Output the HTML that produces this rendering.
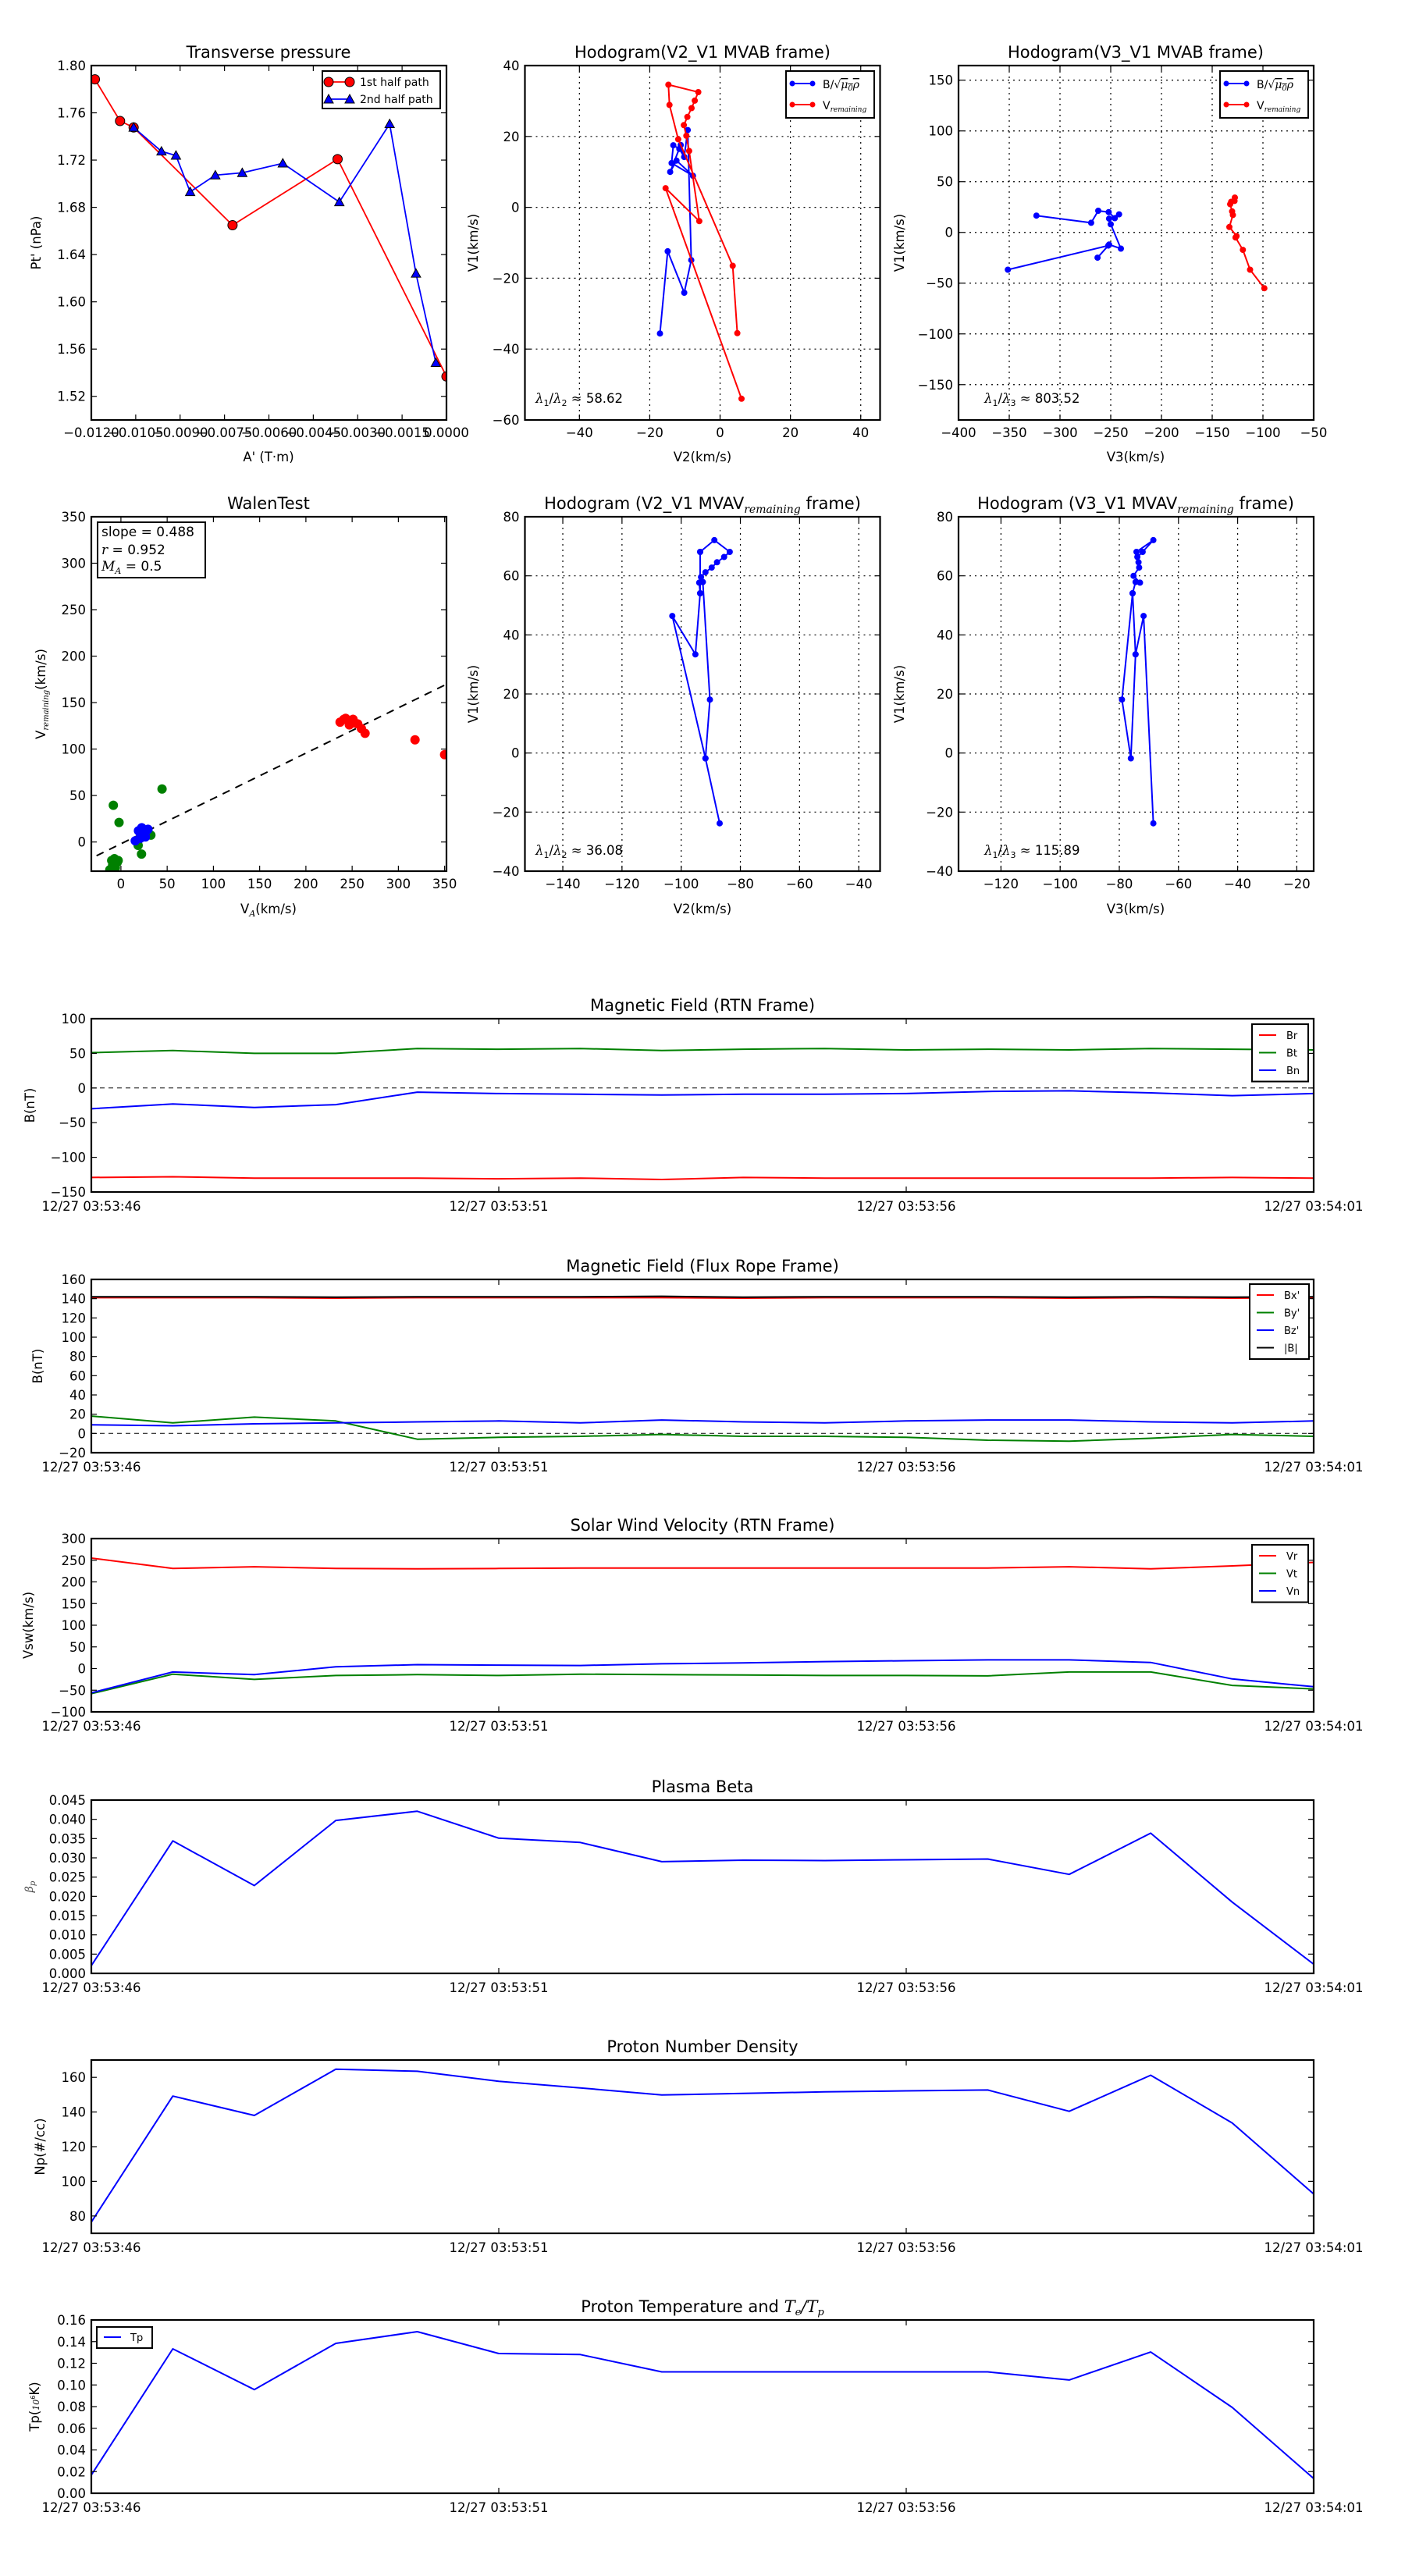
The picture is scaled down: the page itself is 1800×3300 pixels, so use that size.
<!DOCTYPE html>
<html><head><meta charset="utf-8">
<style>html,body{margin:0;padding:0;background:#fff}svg{display:block}</style>
</head><body>
<svg id="s" xmlns="http://www.w3.org/2000/svg" width="1800" height="3300" viewBox="0 0 1800 3300" font-family="DejaVu Sans, Liberation Sans, sans-serif"></svg>
<script>
const out=[];let cid=0;
function esc(s){return s;}
function T(x,y,s,o){o=o||{};const a=o.anchor||'middle',fs=o.fs||16.5;
 const rot=o.rot?` transform="rotate(${o.rot} ${x} ${y})"`:'';
 out.push(`<text x="${x}" y="${y}" font-size="${fs}" text-anchor="${a}"${rot} fill="#000">${s}</text>`);}
function axes(o){
 const fx=v=>o.x0+(v-o.xmin)/(o.xmax-o.xmin)*(o.x1-o.x0);
 const fy=v=>o.y1-(v-o.ymin)/(o.ymax-o.ymin)*(o.y1-o.y0);
 o.fx=fx;o.fy=fy;cid++;o.cid='c'+cid;
 out.push(`<clipPath id="${o.cid}"><rect x="${o.x0}" y="${o.y0}" width="${o.x1-o.x0}" height="${o.y1-o.y0}"/></clipPath>`);
 return o;}
function grid(o){
 (o.xt||[]).forEach(v=>{const x=o.fx(v);out.push(`<line x1="${x}" y1="${o.y0}" x2="${x}" y2="${o.y1}" stroke="#000" stroke-width="1.2" stroke-dasharray="2,5"/>`);});
 (o.yt||[]).forEach(v=>{const y=o.fy(v);out.push(`<line x1="${o.x0}" y1="${y}" x2="${o.x1}" y2="${y}" stroke="#000" stroke-width="1.2" stroke-dasharray="2,5"/>`);});}
function frame(o){
 const tl=7;
 (o.xt||[]).forEach((v,i)=>{const x=o.fx(v);
  out.push(`<line x1="${x}" y1="${o.y1}" x2="${x}" y2="${o.y1-tl}" stroke="#000" stroke-width="1.2"/><line x1="${x}" y1="${o.y0}" x2="${x}" y2="${o.y0+tl}" stroke="#000" stroke-width="1.2"/>`);
  T(x,o.y1+(o.xlo||22),o.xl?o.xl[i]:fmt(v,o.xd));});
 (o.yt||[]).forEach((v,i)=>{const y=o.fy(v);
  out.push(`<line x1="${o.x0}" y1="${y}" x2="${o.x0+tl}" y2="${y}" stroke="#000" stroke-width="1.2"/><line x1="${o.x1}" y1="${y}" x2="${o.x1-tl}" y2="${y}" stroke="#000" stroke-width="1.2"/>`);
  T(o.x0-7,y+6,fmt(v,o.yd),{anchor:'end'});});
 out.push(`<rect x="${o.x0}" y="${o.y0}" width="${o.x1-o.x0}" height="${o.y1-o.y0}" fill="none" stroke="#000" stroke-width="2.2"/>`);}
function fmt(v,d){let s=(d!=null?v.toFixed(d):String(v));if(v<0||s[0]=='-')s='\u2212'+s.replace('-','');return s;}
function line(o,pts,col,w,extra){const p=pts.map(q=>o.fx(q[0]).toFixed(1)+','+o.fy(q[1]).toFixed(1)).join(' ');
 out.push(`<polyline clip-path="url(#${o.cid})" points="${p}" fill="none" stroke="${col}" stroke-width="${w||1.8}" stroke-linejoin="round" ${extra||''}/>`);}
function dots(o,pts,col,r,edge){pts.forEach(q=>out.push(`<circle clip-path="url(#${o.cid})" cx="${o.fx(q[0]).toFixed(1)}" cy="${o.fy(q[1]).toFixed(1)}" r="${r}" fill="${col}" stroke="${edge||col}" stroke-width="1"/>`));}
function tris(o,pts,col,s){pts.forEach(q=>{const x=o.fx(q[0]),y=o.fy(q[1]);out.push(`<polygon points="${x},${y-s} ${x-s},${y+s*0.8} ${x+s},${y+s*0.8}" fill="${col}" stroke="#000" stroke-width="1"/>`);});}
function rng(a,b,s){const r=[];for(let v=a;v<=b+1e-9;v+=s)r.push(+v.toFixed(6));return r;}

// ===== Row 1 =====
// Transverse pressure
let A=axes({x0:117,x1:572,y0:84,y1:538,xmin:-0.012,xmax:0,ymin:1.5,ymax:1.8});
const red=[[-0.01188,1.7884],[-0.01103,1.7531],[-0.01057,1.7476],[-0.00723,1.6649],[-0.00368,1.7208],[0,1.5368]];
const blu=[[-0.01057,1.7476],[-0.00963,1.7274],[-0.00914,1.7239],[-0.00866,1.6931],[-0.00781,1.7072],[-0.0069,1.7092],[-0.00553,1.7173],[-0.00362,1.6845],[-0.00192,1.7506],[-0.00103,1.624],[-0.00036,1.5484]];
line(A,red,'#f00',1.8);line(A,blu,'#00f',1.8);
dots(A,red,'#f00',6,'#000');tris(A,blu,'#00f',6);
A.xt=rng(-0.012,0,0.0015);A.xd=4;A.yt=rng(1.52,1.80,0.04);A.yd=2;frame(A);
T(344,74,'Transverse pressure',{fs:21});
T(344,591,"A' (T·m)",{fs:16.5});
T(52,311,"Pt' (nPa)",{fs:16.5,rot:-90});
out.push(`<rect x="413" y="91" width="151" height="48" fill="#fff" stroke="#000" stroke-width="2"/>`);
out.push(`<line x1="421" y1="105" x2="448" y2="105" stroke="#f00" stroke-width="1.8"/><circle cx="421" cy="105" r="6" fill="#f00" stroke="#000"/><circle cx="448" cy="105" r="6" fill="#f00" stroke="#000"/>`);
out.push(`<line x1="421" y1="127" x2="448" y2="127" stroke="#00f" stroke-width="1.8"/><polygon points="421,121 415,132 427,132" fill="#00f" stroke="#000"/><polygon points="448,121 442,132 454,132" fill="#00f" stroke="#000"/>`);
T(461,110,'1st half path',{fs:14,anchor:'start'});T(461,132,'2nd half path',{fs:14,anchor:'start'});

function hodoLegend(x,y){
 out.push(`<rect x="${x}" y="${y}" width="113" height="60" fill="#fff" stroke="#000" stroke-width="2"/>`);
 out.push(`<line x1="${x+8}" y1="${y+16}" x2="${x+34}" y2="${y+16}" stroke="#00f" stroke-width="2"/><circle cx="${x+8}" cy="${y+16}" r="3.5" fill="#00f"/><circle cx="${x+34}" cy="${y+16}" r="3.5" fill="#00f"/>`);
 out.push(`<line x1="${x+8}" y1="${y+43}" x2="${x+34}" y2="${y+43}" stroke="#f00" stroke-width="2"/><circle cx="${x+8}" cy="${y+43}" r="3.5" fill="#f00"/><circle cx="${x+34}" cy="${y+43}" r="3.5" fill="#f00"/>`);
 out.push(`<text x="${x+47}" y="${y+22}" font-size="14">B/√<tspan font-family="DejaVu Serif, serif" font-style="italic" text-decoration="overline">μ<tspan font-size="10" dy="3">0</tspan><tspan dy="-3">ρ</tspan></tspan></text>`);
 out.push(`<text x="${x+47}" y="${y+49}" font-size="14">V<tspan font-family="DejaVu Serif, serif" font-style="italic" font-size="9" dy="3">remaining</tspan></text>`);}
function lam(x,y,a,b,val){out.push(`<text x="${x}" y="${y}" font-size="16.5"><tspan font-family="DejaVu Serif, serif" font-style="italic">λ</tspan><tspan font-size="11" dy="4">1</tspan><tspan dy="-4">/</tspan><tspan font-family="DejaVu Serif, serif" font-style="italic">λ</tspan><tspan font-size="11" dy="4">${b}</tspan><tspan dy="-4"> ≈ ${val}</tspan></text>`);}

// Hodogram V2_V1 MVAB
let B=axes({x0:672.5,x1:1127.5,y0:84,y1:538,xmin:-55.5,xmax:45.5,ymin:-60,ymax:40});
B.xt=[-40,-20,0,20,40];B.yt=[-60,-40,-20,0,20,40];grid(B);
const bR=[[4.9,-35.5],[3.6,-16.5],[-11.9,19.2],[-14.4,28.9],[-14.7,34.6],[-6.2,32.5],[-7.2,30.1],[-8.1,28],[-9.3,25.5],[-10.3,23.2],[-9.6,20.2],[-8.8,15.9],[-5.9,-3.9],[-15.5,5.4],[6.1,-54]];
const bB=[[-17.1,-35.6],[-14.9,-12.4],[-10.2,-24.1],[-8.2,-14.9],[-9.2,21.8],[-10.2,14.2],[-11.6,16.5],[-13.3,17.5],[-13.8,12.5],[-7.7,8.9],[-12.4,13.2],[-14.2,10.0],[-11.2,17.6],[-10.2,14.2]];
line(B,bB,'#00f',2);dots(B,bB,'#00f',3.5);line(B,bR,'#f00',2);dots(B,bR,'#f00',3.5);
frame(B);hodoLegend(1007,91);lam(686,516,1,2,'58.62');
T(900,74,'Hodogram(V2_V1 MVAB frame)',{fs:21});T(900,591,'V2(km/s)');T(612,311,'V1(km/s)',{rot:-90});

// Hodogram V3_V1 MVAB
let C=axes({x0:1228,x1:1683,y0:84,y1:538,xmin:-400,xmax:-50,ymin:-184.8,ymax:164.4});
C.xt=rng(-400,-50,50);C.yt=rng(-150,150,50);grid(C);
const cB=[[-323.2,16.6],[-269.3,9.5],[-262.3,21.3],[-252,20],[-246,14],[-241.8,17.8],[-251.6,13.6],[-250,8],[-240,-16],[-251.6,-12],[-263,-24.9],[-252.4,-13],[-351.4,-36.7]];
const cR=[[-127.7,34.3],[-131.3,30.2],[-128,31],[-132.3,27.8],[-130.4,20.7],[-129.6,17.2],[-133.1,5.3],[-126,-3.6],[-127,-5],[-119.8,-17.2],[-112.7,-36.7],[-98.6,-55]];
line(C,cB,'#00f',2);dots(C,cB,'#00f',3.5);line(C,cR,'#f00',2);dots(C,cR,'#f00',3.5);
frame(C);hodoLegend(1563,91);lam(1261,516,1,3,'803.52');
T(1455,74,'Hodogram(V3_V1 MVAB frame)',{fs:21});T(1455,591,'V3(km/s)');T(1158,311,'V1(km/s)',{rot:-90});

// ===== Row 2 =====
// Walen
let W=axes({x0:117,x1:572,y0:662,y1:1116,xmin:-32,xmax:352,ymin:-31.4,ymax:350});
line(W,[[-40,-21.5],[360,173.7]],'#000',2,'stroke-dasharray="10,8"');
const wR=[[237,129],[241,132],[247,126],[251,132],[256,127],[260,122],[264,117],[318,110],[350,94],[245,131],[243,133],[253,128]];
const wG=[[44.5,57],[-8.2,39.5],[-2,21],[18.6,-3.7],[22.3,-13],[32.4,7.3],[-10,-20],[-7,-18],[-4,-22],[-9,-25],[-12,-30],[-6,-28],[-3,-20]];
const wB=[[15.5,1.3],[22.5,15.3],[28,12.5],[25,7],[20.8,9.7],[29.3,13.6],[26.5,5.5],[19,12],[21,4]];
dots(W,wR,'#f00',5.5);dots(W,wG,'#008000',5.5);dots(W,wB,'#00f',5.5);
W.xt=rng(0,350,50);W.yt=rng(0,350,50);frame(W);
out.push(`<rect x="125" y="669" width="138" height="71" fill="#fff" stroke="#000" stroke-width="2"/>`);
T(130,687,'slope = 0.488',{anchor:'start',fs:17});
out.push(`<text x="130" y="710" font-size="17"><tspan font-family="DejaVu Serif, serif" font-style="italic">r</tspan> = 0.952</text>`);
out.push(`<text x="130" y="731" font-size="17"><tspan font-family="DejaVu Serif, serif" font-style="italic">M</tspan><tspan font-family="DejaVu Serif, serif" font-style="italic" font-size="11" dy="4">A</tspan><tspan dy="-4"> = 0.5</tspan></text>`);
T(344,652,'WalenTest',{fs:21});
out.push(`<text x="344" y="1170" font-size="16.5" text-anchor="middle">V<tspan font-family="DejaVu Serif, serif" font-style="italic" font-size="11" dy="4">A</tspan><tspan dy="-4">(km/s)</tspan></text>`);
out.push(`<text x="58" y="889" font-size="16.5" text-anchor="middle" transform="rotate(-90 58 889)">V<tspan font-family="DejaVu Serif, serif" font-style="italic" font-size="10" dy="4">remaining</tspan><tspan dy="-4">(km/s)</tspan></text>`);

// Hodogram V2_V1 MVAV
let D=axes({x0:672.5,x1:1127.5,y0:662,y1:1116,xmin:-152.8,xmax:-32.8,ymin:-40,ymax:80});
D.xt=rng(-140,-40,20);D.yt=rng(-40,80,20);grid(D);
const dB=[[-93.6,68.1],[-88.8,72.1],[-83.6,68.1],[-85.5,66.4],[-87.9,64.6],[-89.7,62.8],[-91.8,61.2],[-93.3,59.6],[-92.7,57.9],[-93.9,57.7],[-93.6,54.1],[-93.6,68.1]];
const dB2=[[-92.7,57.9],[-90.3,18.1],[-91.8,-1.8],[-87,-23.8]];
const dB3=[[-93.6,54.1],[-95.2,33.4],[-103,46.4],[-91.8,-1.8]];
line(D,dB,'#00f',2);line(D,dB2,'#00f',2);line(D,dB3,'#00f',2);dots(D,dB.concat(dB2,dB3),'#00f',3.5);
frame(D);lam(686,1095,1,2,'36.08');
out.push(`<text x="900" y="652" font-size="21" text-anchor="middle">Hodogram (V2_V1 MVAV<tspan font-family="DejaVu Serif, serif" font-style="italic" font-size="14" dy="5">remaining</tspan><tspan dy="-5"> frame)</tspan></text>`);
T(900,1170,'V2(km/s)');T(612,889,'V1(km/s)',{rot:-90});

// Hodogram V3_V1 MVAV
let E=axes({x0:1228,x1:1683,y0:662,y1:1116,xmin:-134.35,xmax:-14.3,ymin:-40,ymax:80});
E.xt=rng(-120,-20,20);E.yt=rng(-40,80,20);grid(E);
const eB=[[-74.2,68.1],[-68.5,72.1],[-72.1,68.1],[-73.9,66.4],[-73.5,64.6],[-73.3,62.8],[-75.2,60],[-73,57.7],[-74.5,57.9],[-75.5,54.1],[-74.5,33.4],[-71.8,46.4],[-68.5,-23.8]];
const eB2=[[-75.5,54.1],[-79.1,18.1],[-76.1,-1.8],[-74.5,33.4]];
line(E,eB,'#00f',2);line(E,eB2,'#00f',2);dots(E,eB.concat(eB2),'#00f',3.5);
frame(E);lam(1261,1095,1,3,'115.89');
out.push(`<text x="1455" y="652" font-size="21" text-anchor="middle">Hodogram (V3_V1 MVAV<tspan font-family="DejaVu Serif, serif" font-style="italic" font-size="14" dy="5">remaining</tspan><tspan dy="-5"> frame)</tspan></text>`);
T(1455,1170,'V3(km/s)');T(1158,889,'V1(km/s)',{rot:-90});

// ===== Time series =====
const dl=['12/27 03:53:46','12/27 03:53:51','12/27 03:53:56','12/27 03:54:01'];
function ts(y0,ymin,ymax,yt,yd,title,series,ylab,ylx,zero){
 const o=axes({x0:117,x1:1683,y0:y0,y1:y0+222,xmin:0,xmax:15,ymin:ymin,ymax:ymax});
 if(zero)line(o,[[0,0],[15,0]],'#000',1,'stroke-dasharray="6,5"');
 series.forEach(s=>line(o,s[1].map((v,i)=>[i,v]),s[0],2));
 o.xt=[0,5,10,15];o.xl=dl;o.xlo=24;o.yt=yt;o.yd=yd;frame(o);
 if(title)T(900,y0-10,title,{fs:21});
 if(ylab)out.push(ylab);
 return o;}
function leg(x,y,w,items,fs){const h=items.length*22.5+6;
 out.push(`<rect x="${x}" y="${y}" width="${w}" height="${h}" fill="#fff" stroke="#000" stroke-width="2"/>`);
 items.forEach((it,i)=>{const yy=y+14+i*22.5;out.push(`<line x1="${x+9}" y1="${yy}" x2="${x+31}" y2="${yy}" stroke="${it[0]}" stroke-width="2"/>`);T(x+44,yy+5,it[1],{anchor:'start',fs:fs||13});});}
function yl(x,y,s){return `<text x="${x}" y="${y}" font-size="16.5" text-anchor="middle" transform="rotate(-90 ${x} ${y})">${s}</text>`;}

ts(1305,-150,100,rng(-150,100,50),null,'Magnetic Field (RTN Frame)',[
 ['#f00',[-129,-128,-130,-130,-130,-131,-130,-132,-129,-130,-130,-130,-130,-130,-129,-130]],
 ['#008000',[51,54,50,50,57,56,57,54,56,57,55,56,55,57,56,55]],
 ['#00f',[-30,-23,-28,-24,-6,-8,-9,-10,-9,-9,-8,-5,-4,-7,-11,-8]]],yl(44,1416,'B(nT)'),0,true);
leg(1604,1312,72,[['#f00','Br'],['#008000','Bt'],['#00f','Bn']]);

ts(1639,-20,160,rng(-20,160,20),null,'Magnetic Field (Flux Rope Frame)',[
 ['#f00',[141,141,141,140.5,141,141,141,141,140.5,141,141,141,140.5,141,140.5,141]],
 ['#008000',[18,11,17,13,-6,-4,-3,-1,-3,-3,-4,-7,-8,-5,-1,-3]],
 ['#00f',[9,8,10,11,12,13,11,14,12,11,13,14,14,12,11,13]],
 ['#000',[142,142,142,141.5,142,142,142,142.5,141.5,142,142,142,141.5,142,141.5,142]]],yl(54,1750,'B(nT)'),0,true);
leg(1601,1645,76,[['#f00',"Bx'"],['#008000',"By'"],['#00f',"Bz'"],['#000','|B|']]);

ts(1971,-100,300,rng(-100,300,50),null,'Solar Wind Velocity (RTN Frame)',[
 ['#f00',[255,231,235,231,230,231,232,232,232,232,232,232,235,230,237,245]],
 ['#008000',[-58,-13,-25,-16,-14,-16,-13,-14,-15,-16,-16,-17,-8,-8,-39,-47]],
 ['#00f',[-56,-8,-14,4,9,8,7,11,13,16,18,20,20,14,-24,-42]]],yl(42,2082,'Vsw(km/s)'),0,false);
leg(1604,1979,72,[['#f00','Vr'],['#008000','Vt'],['#00f','Vn']]);

ts(2306,0,0.045,rng(0,0.045,0.005),3,'Plasma Beta',[
 ['#00f',[0.002,0.0344,0.0228,0.0397,0.0421,0.0351,0.034,0.029,0.0294,0.0293,0.0295,0.0297,0.0257,0.0364,0.0185,0.0024]]],
 `<text x="42" y="2417" font-size="14" text-anchor="middle" font-family="DejaVu Serif, serif" font-style="italic" fill="#444" transform="rotate(-90 42 2417)">β<tspan font-size="10" dy="3">p</tspan></text>`,0,false);

ts(2639,70,170,rng(80,160,20),null,'Proton Number Density',[
 ['#00f',[76.5,149.2,138,164.7,163.5,157.7,153.9,149.8,150.7,151.6,152.2,152.7,140.4,161.2,133.7,92.7]]],yl(57,2750,'Np(#/cc)'),0,false);

ts(2972,0,0.16,rng(0,0.16,0.02),2,null,[
 ['#00f',[0.0169,0.1333,0.0957,0.1384,0.1492,0.129,0.1281,0.1121,0.1121,0.1121,0.1121,0.1121,0.1046,0.1304,0.0793,0.0136]]],
 `<text x="50" y="3083" font-size="16.5" text-anchor="middle" transform="rotate(-90 50 3083)">Tp(<tspan font-size="11" font-style="italic" font-family="DejaVu Serif, serif">10</tspan><tspan font-size="8" dy="-5">6</tspan><tspan dy="5">K)</tspan></text>`,0,false);
out.push(`<text x="900" y="2962" font-size="21" text-anchor="middle">Proton Temperature and <tspan font-family="DejaVu Serif, serif" font-style="italic">T</tspan><tspan font-family="DejaVu Serif, serif" font-style="italic" font-size="13" dy="4">e</tspan><tspan font-family="DejaVu Serif, serif" font-style="italic" dy="-4">/T</tspan><tspan font-family="DejaVu Serif, serif" font-style="italic" font-size="13" dy="4">p</tspan></text>`);
out.push(`<rect x="124" y="2981" width="71" height="27" fill="#fff" stroke="#000" stroke-width="2"/><line x1="133" y1="2994" x2="155" y2="2994" stroke="#00f" stroke-width="2"/>`);
T(167,2999,'Tp',{anchor:'start',fs:13});

document.getElementById('s').innerHTML=out.join('');
</script>
</body></html>
